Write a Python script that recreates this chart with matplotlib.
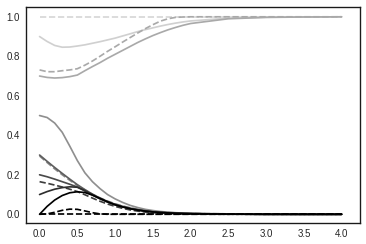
import matplotlib
matplotlib.use("Agg")
import matplotlib.pyplot as plt
import seaborn as sns

# time grid
t = [0.0, 0.1, 0.2, 0.3, 0.4, 0.5, 0.6, 0.7, 0.8, 0.9, 1.0,
     1.1, 1.2, 1.3, 1.4, 1.5, 1.6, 1.7, 1.8, 1.9, 2.0,
     2.5, 3.0, 3.5, 4.0]

# upper group
top_const = [1.0, 1.0, 1.0, 1.0, 1.0, 1.0, 1.0, 1.0, 1.0, 1.0, 1.0,
             1.0, 1.0, 1.0, 1.0, 1.0, 1.0, 1.0, 1.0, 1.0, 1.0,
             1.0, 1.0, 1.0, 1.0]
light_solid = [0.900, 0.875, 0.855, 0.846, 0.847, 0.852, 0.858, 0.866, 0.874, 0.883, 0.892,
               0.903, 0.914, 0.925, 0.935, 0.944, 0.953, 0.961, 0.968, 0.974, 0.979,
               0.993, 0.998, 0.999, 1.000]
mid_dashed = [0.731, 0.722, 0.722, 0.727, 0.731, 0.737, 0.755, 0.776, 0.800, 0.825, 0.848,
              0.872, 0.895, 0.918, 0.940, 0.960, 0.978, 0.990, 0.997, 0.999, 1.000,
              1.000, 1.000, 1.000, 1.000]
mid_solid = [0.700, 0.693, 0.690, 0.692, 0.697, 0.705, 0.727, 0.748, 0.768, 0.790, 0.810,
             0.830, 0.850, 0.870, 0.888, 0.905, 0.920, 0.934, 0.946, 0.957, 0.966,
             0.990, 0.997, 0.999, 1.000]

# lower group
gray_50 = [0.500, 0.490, 0.462, 0.415, 0.345, 0.272, 0.210, 0.165, 0.130, 0.100, 0.078,
           0.060, 0.045, 0.034, 0.025, 0.019, 0.014, 0.011, 0.008, 0.006, 0.005,
           0.002, 0.001, 0.000, 0.000]
solid_30 = [0.300, 0.268, 0.237, 0.207, 0.178, 0.150, 0.125, 0.102, 0.082, 0.065, 0.051,
            0.040, 0.031, 0.024, 0.018, 0.013, 0.010, 0.008, 0.006, 0.004, 0.003,
            0.001, 0.000, 0.000, 0.000]
dashed_29 = [0.295, 0.262, 0.230, 0.200, 0.172, 0.146, 0.123, 0.101, 0.083, 0.067, 0.053,
             0.042, 0.033, 0.025, 0.019, 0.014, 0.011, 0.009, 0.007, 0.005, 0.004,
             0.002, 0.001, 0.000, 0.000]
solid_20 = [0.200, 0.190, 0.178, 0.165, 0.152, 0.138, 0.118, 0.097, 0.078, 0.062, 0.048,
            0.037, 0.028, 0.021, 0.016, 0.012, 0.009, 0.007, 0.005, 0.004, 0.003,
            0.001, 0.000, 0.000, 0.000]
dashed_16 = [0.165, 0.157, 0.148, 0.138, 0.127, 0.115, 0.099, 0.082, 0.066, 0.052, 0.040,
             0.030, 0.022, 0.016, 0.011, 0.008, 0.006, 0.004, 0.003, 0.002, 0.001,
             0.000, 0.000, 0.000, 0.000]
solid_10 = [0.100, 0.115, 0.127, 0.135, 0.139, 0.137, 0.120, 0.100, 0.080, 0.063, 0.049,
            0.038, 0.029, 0.022, 0.016, 0.012, 0.009, 0.007, 0.005, 0.004, 0.003,
            0.001, 0.000, 0.000, 0.000]
black_solid = [0.000, 0.040, 0.072, 0.095, 0.109, 0.114, 0.110, 0.097, 0.080, 0.063, 0.048,
               0.037, 0.028, 0.021, 0.016, 0.012, 0.009, 0.007, 0.005, 0.004, 0.003,
               0.001, 0.000, 0.000, 0.000]
black_bump = [0.000, 0.002, 0.010, 0.020, 0.026, 0.025, 0.017, 0.008, 0.002, 0.000, 0.000,
              0.000, 0.000, 0.000, 0.000, 0.000, 0.000, 0.000, 0.000, 0.000, 0.000,
              0.000, 0.000, 0.000, 0.000]
black_zero = [0.0, 0.0, 0.0, 0.0, 0.0, 0.0, 0.0, 0.0, 0.0, 0.0, 0.0,
              0.0, 0.0, 0.0, 0.0, 0.0, 0.0, 0.0, 0.0, 0.0, 0.0,
              0.0, 0.0, 0.0, 0.0]

sns.set_style("white")
plt.rcParams['font.family'] = ['Liberation Sans', 'DejaVu Sans']

fig = plt.figure(figsize=(6, 4), dpi=61)
ax = fig.add_axes([0.071, 0.087, 0.912, 0.883])

lw = 2.0
ax.plot(t, top_const, '--', color='#d6d6d6', lw=lw)
ax.plot(t, light_solid, '-', color='#d0d0d0', lw=lw)
ax.plot(t, mid_dashed, '--', color='#a9a9a9', lw=lw)
ax.plot(t, mid_solid, '-', color='#a9a9a9', lw=lw)

ax.plot(t, gray_50, '-', color='#8f8f8f', lw=lw)
ax.plot(t, dashed_29, '--', color='#8a8a8a', lw=lw)
ax.plot(t, solid_30, '-', color='#5e5e5e', lw=lw)
ax.plot(t, solid_20, '-', color='#4a4a4a', lw=lw)
ax.plot(t, dashed_16, '--', color='#3d3d3d', lw=lw)
ax.plot(t, solid_10, '-', color='#2e2e2e', lw=lw)
ax.plot(t, black_solid, '-', color='#000000', lw=lw)
ax.plot(t, black_bump, '--', color='#000000', lw=lw)
ax.plot(t, black_zero, '--', color='#000000', lw=lw)

ax.set_xlim(-0.18, 4.24)
ax.set_ylim(-0.043, 1.048)
ax.set_xticks([0.0, 0.5, 1.0, 1.5, 2.0, 2.5, 3.0, 3.5, 4.0])
ax.set_yticks([0.0, 0.2, 0.4, 0.6, 0.8, 1.0])
ax.tick_params(labelsize=11.5)
for s in ax.spines.values():
    s.set_linewidth(1.6)
    s.set_color('#1a1a1a')

fig.savefig("out.png", dpi=61)
